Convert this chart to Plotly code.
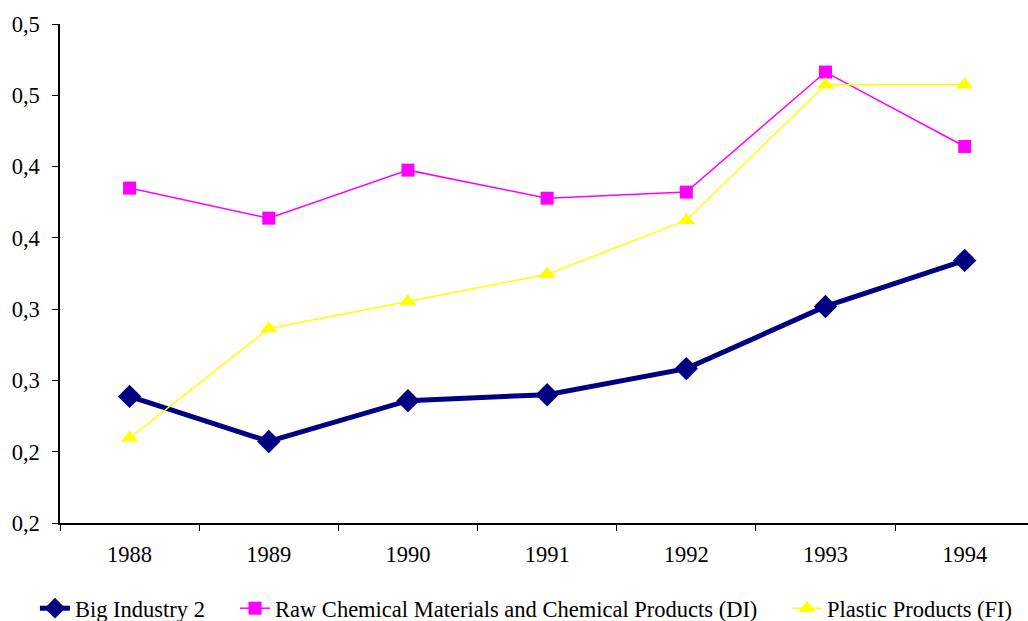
import plotly.graph_objects as go

years = ["1988", "1989", "1990", "1991", "1992", "1993", "1994"]
big_industry = [0.2888, 0.2572, 0.2858, 0.2900, 0.3083, 0.3519, 0.3842]
raw_chemical = [0.4349, 0.4138, 0.4475, 0.4278, 0.4321, 0.5163, 0.4641]
plastic = [0.2596, 0.3364, 0.3554, 0.3744, 0.4124, 0.5074, 0.5074]

y_tickvals = [0.20, 0.25, 0.30, 0.35, 0.40, 0.45, 0.50, 0.55]
y_ticktext = ["0,2", "0,2", "0,3", "0,3", "0,4", "0,4", "0,5", "0,5"]

font_family = "Liberation Serif"

fig = go.Figure()
fig.add_trace(go.Scatter(
    x=years, y=big_industry, name="Big Industry 2", mode="lines+markers",
    line=dict(color="#000080", width=5),
    marker=dict(symbol="diamond", size=18, color="#000080"),
    legend="legend",
))
fig.add_trace(go.Scatter(
    x=years, y=raw_chemical, name="Raw Chemical Materials and Chemical Products (DI)",
    mode="lines+markers",
    line=dict(color="#FF00FF", width=1.5),
    marker=dict(symbol="square", size=13, color="#FF00FF"),
    legend="legend2",
))
fig.add_trace(go.Scatter(
    x=years, y=plastic, name="Plastic Products (FI)", mode="lines+markers",
    line=dict(color="#FFFF00", width=1.5),
    marker=dict(symbol="triangle-up", size=15, color="#FFFF00"),
    legend="legend3",
))

legend_common = dict(orientation="h", xref="container", yref="container",
                     xanchor="left", y=0.02, yanchor="middle",
                     font=dict(size=22.5), itemwidth=30,
                     bgcolor="rgba(0,0,0,0)")

fig.update_layout(
    width=1028, height=621,
    margin=dict(l=60, r=0, t=24, b=98),
    paper_bgcolor="white", plot_bgcolor="white",
    font=dict(family=font_family, size=22.5, color="black"),
    showlegend=True,
    legend=dict(x=0.034, **legend_common),
    legend2=dict(x=0.2286, **legend_common),
    legend3=dict(x=0.7656, **legend_common),
)
fig.update_xaxes(
    type="category", range=[-0.5, 6.455],
    showline=True, linecolor="black", linewidth=1.5,
    ticks="outside", tickson="boundaries", ticklen=6, tickcolor="black",
    showgrid=False, zeroline=False, ticklabelstandoff=10,
)
fig.update_yaxes(
    range=[0.2, 0.55], tickvals=y_tickvals, ticktext=y_ticktext,
    showline=True, linecolor="black", linewidth=1.5,
    ticks="outside", ticklen=6, tickcolor="black",
    showgrid=False, zeroline=False, ticklabelstandoff=8,
)

fig.write_html("out.html", config={"displayModeBar": False},
               post_script="document.body.style.margin='0';")
